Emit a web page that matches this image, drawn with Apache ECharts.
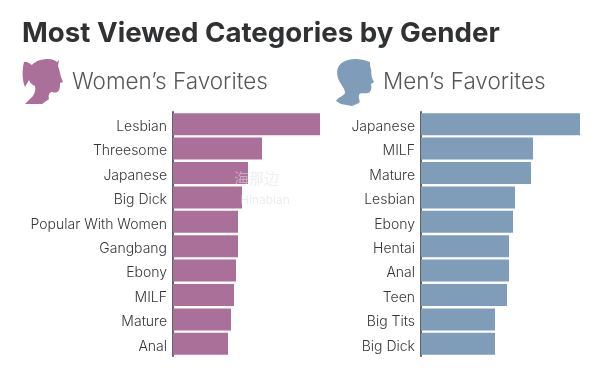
<!DOCTYPE html>
<html>
<head>
<meta charset="utf-8">
<style>
  html, body { margin: 0; padding: 0; background: #fff; }
  #chart { width: 615px; height: 375px; }
</style>
<script src="https://cdn.jsdelivr.net/npm/echarts@6/dist/echarts.min.js"></script>
</head>
<body>
<div id="chart"></div>
<script>
const womenCategories = ["Lesbian", "Threesome", "Japanese", "Big Dick", "Popular With Women", "Gangbang", "Ebony", "MILF", "Mature", "Anal"];
const womenValues = [147, 89, 75, 69, 65, 65, 63, 61, 58, 55];
const menCategories = ["Japanese", "MILF", "Mature", "Lesbian", "Ebony", "Hentai", "Anal", "Teen", "Big Tits", "Big Dick"];
const menValues = [159, 112, 110, 94, 92, 88, 88, 86, 74, 74];

const pink = "#ab7099";
const blue = "#7f9cb9";
const axisGrey = "#5f6468";
const font = "Inter, 'Open Sans', sans-serif";

// silhouettes, page coordinates
const womanHead = "M25 104 L33 96 C35 92 36 90 35 86 C32 85 30 83 29 80 L25 87 C22 80 22 70 24 62 L27 62 L32 65 C35 61 42 59 48 59 C52 59 55 60 57 62 L59 60 L58 66 C60 71 60 74 61 77 L63 82 L60 83 C60 86 60 88 59 90 C58 93 54 93 52 92 C49 92 48 96 49 99 L42 104 Z";
const manHead = "M336 101 C338 97 344 96 345 93 C345 88 340 84 338 78 C335 68 340 62 348 60 C355 58 362 59 370 62 L370 66 C372 71 371 75 372 78 L374 82 L371 84 C372 88 371 92 368 93 C365 94 360 92 359 95 C358 99 361 101 359 103 L352 106 L341 104 Z";
echarts.graphic.registerShape("womanHead", echarts.graphic.extendPath(womanHead));
echarts.graphic.registerShape("manHead", echarts.graphic.extendPath(manHead));

function listAxis(names) {
  return {
    type: "category",
    inverse: true,
    data: names,
    axisTick: { show: false },
    axisLine: { show: true, lineStyle: { color: axisGrey, width: 2 } },
    // text sits a little under the bar centre in the original
    axisLabel: { color: "#34373a", fontFamily: font, fontWeight: 300, fontSize: 14, margin: 6, verticalAlign: "top", lineHeight: 5 }
  };
}

function valueAxis(gridIndex, max) {
  return { type: "value", gridIndex: gridIndex, min: 0, max: max, show: false };
}

const chart = echarts.init(document.getElementById("chart"), null, { renderer: "canvas" });
chart.setOption({
  animation: false,
  backgroundColor: "#fff",
  title: [
    { text: "Most Viewed Categories by Gender", left: 17, top: 15, textStyle: { color: "#2f3133", fontFamily: font, fontWeight: 700, fontSize: 27.7 } },
    { text: "Women’s Favorites", left: 67, top: 66, textStyle: { color: "#55585b", fontFamily: font, fontWeight: 300, fontSize: 22.5 } },
    { text: "Men’s Favorites", left: 378, top: 66, textStyle: { color: "#55585b", fontFamily: font, fontWeight: 300, fontSize: 22.5 } }
  ],
  grid: [
    { left: 173, top: 112, width: 148, height: 244 },
    { left: 421, top: 112, width: 160, height: 244 }
  ],
  yAxis: [
    listAxis(womenCategories),
    Object.assign(listAxis(menCategories), { gridIndex: 1 })
  ],
  xAxis: [valueAxis(0, 148), valueAxis(1, 160)],
  series: [
    { type: "bar", data: womenValues, barCategoryGap: "10%", itemStyle: { color: pink } },
    { type: "bar", data: menValues, xAxisIndex: 1, yAxisIndex: 1, barCategoryGap: "10%", itemStyle: { color: blue } }
  ],
  graphic: [
    { type: "womanHead", style: { fill: pink } },
    { type: "manHead", style: { fill: blue } },
    { type: "text", x: 234, y: 171, z: 10, style: { text: "海那边", fill: "rgba(228,224,230,0.55)", font: "15px 'Noto Sans CJK SC'" } },
    { type: "text", x: 240, y: 194, z: 10, style: { text: "Hinabian", fill: "rgba(215,215,222,0.45)", font: "12px " + font } }
  ]
});
</script>
</body>
</html>
